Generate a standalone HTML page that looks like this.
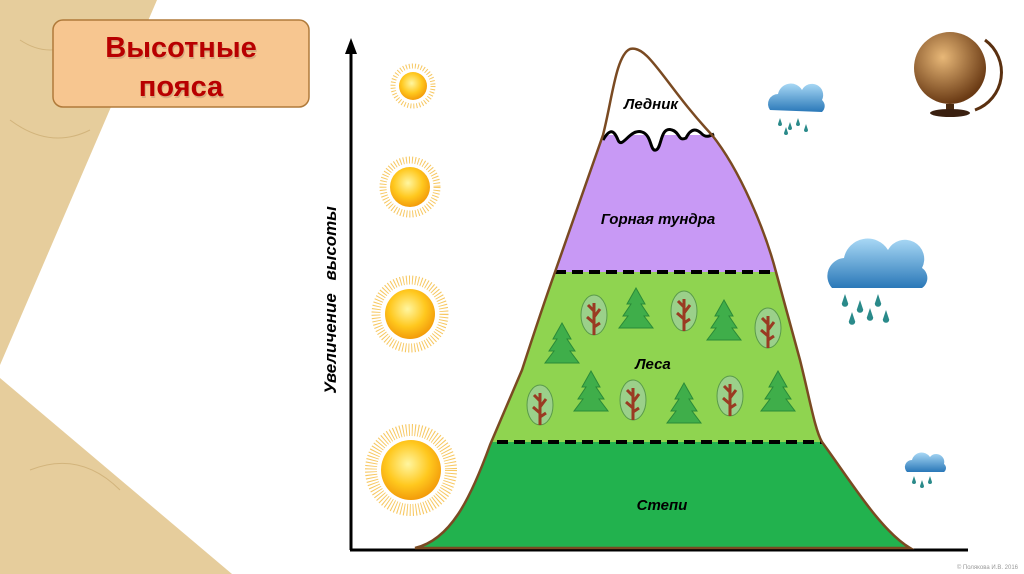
<!DOCTYPE html>
<html><head><meta charset="utf-8"><style>
html,body{margin:0;padding:0;background:#fff;}
svg{display:block}
text{font-family:"Liberation Sans","DejaVu Sans",sans-serif;}
</style></head><body>
<svg width="1024" height="574" viewBox="0 0 1024 574" xmlns="http://www.w3.org/2000/svg">
<defs>
<radialGradient id="sun" cx="45%" cy="40%" r="60%"><stop offset="0" stop-color="#fff6a0"/><stop offset="0.6" stop-color="#ffc81e"/><stop offset="1" stop-color="#f39c0a"/></radialGradient>
<linearGradient id="cloud" x1="0" y1="0" x2="0" y2="1"><stop offset="0" stop-color="#a8d8f5"/><stop offset="1" stop-color="#2a78b8"/></linearGradient>
<radialGradient id="globe" cx="40%" cy="35%" r="65%"><stop offset="0" stop-color="#e8b878"/><stop offset="1" stop-color="#6a3a14"/></radialGradient>
<clipPath id="mt"><path id="mtp" d="M415,548 C450,540 470,500 490,445 L522,370 C535,330 545,300 555,272 L603,135 C612,100 616,55 630,49 C648,44 665,85 712,135 C740,170 765,230 776,272 L800,360 C810,400 815,430 822,442 C850,480 880,530 910,548 Z"/></clipPath>
<g id="fir"><rect x="-2" y="8" width="4" height="10" fill="#7a3a20"/><polygon points="0,-22 -9,-6 -5,-6 -13,6 -8,6 -17,18 17,18 8,6 13,6 5,-6 9,-6" fill="#3fae4a" stroke="#2a8a38" stroke-width="1"/></g>
<g id="oak"><ellipse cx="0" cy="0" rx="13" ry="20" fill="#9bd08a" stroke="#5a9a4a"/><path d="M0,20 L0,-12 M0,-4 L-6,-10 M0,2 L6,-6 M0,8 L-7,2 M0,12 L6,8" stroke="#9a3a22" stroke-width="3" fill="none"/></g>
<g id="drops" fill="#2a8a8a"><path d="M0,0 l-2,6 a2,2 0 0 0 4,0z"/></g>
</defs>
<polygon points="0,0 157,0 0,365" fill="#e6cd9c"/>
<polygon points="0,378 232,574 0,574" fill="#e6cd9c"/>
<path d="M20,40 q30,20 60,0 M10,120 q40,30 80,10 M30,470 q50,-20 90,20" stroke="#d2b47c" fill="none"/>
<rect x="53" y="20" width="256" height="87" rx="10" fill="#f7c690" stroke="#b07a3a" stroke-width="1.5"/>
<g font-size="29" font-weight="bold" text-anchor="middle">
<text x="182" y="59" fill="#b89070" opacity="0.5">Высотные</text>
<text x="182" y="98" fill="#b89070" opacity="0.5">пояса</text>
<text x="181" y="57" fill="#b80000">Высотные</text>
<text x="181" y="96" fill="#b80000">пояса</text>
</g>
<line x1="351" y1="50" x2="351" y2="550" stroke="#000" stroke-width="3"/>
<polygon points="351,38 345,54 357,54" fill="#000"/>
<line x1="350" y1="550" x2="968" y2="550" stroke="#000" stroke-width="3"/>
<text transform="translate(336,300) rotate(-90)" text-anchor="middle" font-size="17" font-weight="bold" font-style="italic" word-spacing="8">Увеличение высоты</text>
<g clip-path="url(#mt)">
<rect x="400" y="40" width="520" height="100" fill="#fff"/>
<rect x="400" y="135" width="520" height="137" fill="#c899f5"/>
<rect x="400" y="272" width="520" height="170" fill="#8fd450"/>
<rect x="400" y="442" width="520" height="110" fill="#22b24e"/>
<path d="M598,140 C605,130 612,128 616,138 C622,150 630,130 640,132 C650,134 650,150 655,150 C660,150 660,128 672,130 C680,132 678,142 686,138 C692,128 698,130 702,134 L716,136 L716,128 L598,128 Z" fill="#fff"/>
</g>
<path d="M603,140 C610,128 614,130 618,140 C622,150 630,128 642,132 C652,135 650,152 656,150 C662,148 660,126 672,130 C680,132 678,142 686,138 C692,126 698,130 702,134 C706,138 710,136 714,134" stroke="#000" stroke-width="3" fill="none"/>
<line x1="555" y1="272" x2="776" y2="272" stroke="#000" stroke-width="4" stroke-dasharray="11,6"/>
<line x1="497" y1="442" x2="822" y2="442" stroke="#000" stroke-width="4" stroke-dasharray="11,6"/>
<use href="#mtp" fill="none" stroke="#7a4a22" stroke-width="2.5"/>
<use href="#oak" x="594" y="315"/><use href="#fir" x="636" y="310"/><use href="#oak" x="684" y="311"/><use href="#fir" x="724" y="322"/><use href="#oak" x="768" y="328"/><use href="#fir" x="562" y="345"/>
<use href="#oak" x="540" y="405"/><use href="#fir" x="591" y="393"/><use href="#oak" x="633" y="400"/><use href="#fir" x="684" y="405"/><use href="#oak" x="730" y="396"/><use href="#fir" x="778" y="393"/>
<g font-size="15" font-weight="bold" font-style="italic" text-anchor="middle">
<text x="651" y="109">Ледник</text>
<text x="658" y="224">Горная тундра</text>
<text x="653" y="369">Леса</text>
<text x="662" y="510">Степи</text>
</g>
<g stroke="#f3b020" stroke-width="1">
<circle cx="413" cy="86" r="20" fill="none" stroke-dasharray="1,2" stroke-width="5" opacity="0.7"/>
<circle cx="413" cy="86" r="14" fill="url(#sun)" stroke="none"/>
<circle cx="410" cy="187" r="27" fill="none" stroke-dasharray="1,2" stroke-width="7" opacity="0.7"/>
<circle cx="410" cy="187" r="20" fill="url(#sun)" stroke="none"/>
<circle cx="410" cy="314" r="34" fill="none" stroke-dasharray="1,2" stroke-width="9" opacity="0.7"/>
<circle cx="410" cy="314" r="25" fill="url(#sun)" stroke="none"/>
<circle cx="411" cy="470" r="40" fill="none" stroke-dasharray="1,2" stroke-width="12" opacity="0.7"/>
<circle cx="411" cy="470" r="30" fill="url(#sun)" stroke="none"/>
</g>
<g fill="url(#cloud)">
<path d="M770,110 a10,10 0 0 1 8,-16 a13,13 0 0 1 24,-4 a10,10 0 0 1 20,10 a8,8 0 0 1 0,12 z"/>
<path d="M832,288 a18,18 0 0 1 12,-30 a24,24 0 0 1 44,-8 a19,19 0 0 1 34,18 a12,12 0 0 1 0,20 z"/>
<path d="M907,472 a7,7 0 0 1 5,-12 a10,10 0 0 1 18,-3 a8,8 0 0 1 14,7 a5,5 0 0 1 0,8 z"/>
</g>
<g><use href="#drops" x="780" y="118"/><use href="#drops" x="790" y="122"/><use href="#drops" x="798" y="118"/><use href="#drops" x="786" y="127"/><use href="#drops" x="806" y="124"/>
<use href="#drops" transform="translate(845,294) scale(1.6)"/><use href="#drops" transform="translate(860,300) scale(1.6)"/><use href="#drops" transform="translate(878,294) scale(1.6)"/><use href="#drops" transform="translate(852,312) scale(1.6)"/><use href="#drops" transform="translate(870,308) scale(1.6)"/><use href="#drops" transform="translate(886,310) scale(1.6)"/>
<use href="#drops" x="914" y="476"/><use href="#drops" x="922" y="480"/><use href="#drops" x="930" y="476"/></g>
<path d="M985,40 a40,40 0 0 1 -10,70" stroke="#5a3010" stroke-width="3" fill="none"/>
<circle cx="950" cy="68" r="36" fill="url(#globe)"/>
<rect x="946" y="104" width="8" height="8" fill="#4a2a10"/>
<ellipse cx="950" cy="113" rx="20" ry="4" fill="#3a2010"/>
<text x="1018" y="569" text-anchor="end" font-size="6" fill="#999">© Полякова И.В. 2016</text>
</svg>
</body></html>
